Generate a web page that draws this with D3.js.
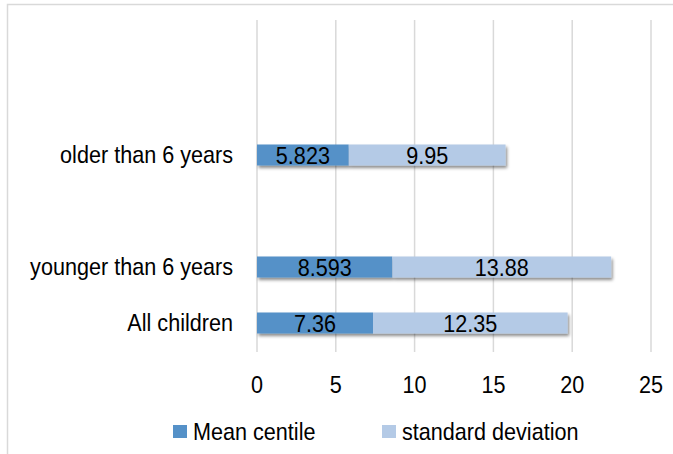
<!DOCTYPE html>
<html>
<head>
<meta charset="utf-8">
<script src="https://cdn.jsdelivr.net/npm/d3@7"></script>
<style>
  html, body { margin: 0; padding: 0; background: #fff; }
  svg text { font-family: "Liberation Sans", Arial, sans-serif; fill: #000; }
</style>
</head>
<body>
<svg id="chart" width="673" height="454"></svg>
<script>
// Category slots, bottom to top (blank slots are empty rows in the source chart)
const categories = ["All children", "younger than 6 years", "", "older than 6 years", "", ""];
const meanCentile = [7.36, 8.593, null, 5.823, null, null];
const standardDeviation = [12.35, 13.88, null, 9.95, null, null];
const seriesNames = ["Mean centile", "standard deviation"];
const xTicks = [0, 5, 10, 15, 20, 25];
const colors = ["#5591c8", "#b4cae6"];

const svg = d3.select("#chart");
const fontSize = 24;
const squeeze = 0.9; // emulate a narrow typeface
const place = (px, py) => `translate(${px},${py}) scale(${squeeze},1)`;

// outer border (only left/top visible in the frame)
svg.append("rect").attr("x", 7.5).attr("y", 4.5).attr("width", 680).attr("height", 470)
  .attr("fill", "none").attr("stroke", "#d9d9d9").attr("stroke-width", 1.5);

const defs = svg.append("defs");
const f = defs.append("filter").attr("id", "shadow").attr("x", "-5%").attr("y", "-30%").attr("width", "115%").attr("height", "190%");
f.append("feDropShadow").attr("dx", 1.5).attr("dy", 2.5).attr("stdDeviation", 1.6)
  .attr("flood-color", "#000").attr("flood-opacity", 0.45);

const x = d3.scaleLinear().domain([0, 25]).range([257, 651]);
const idx = categories.map((d, i) => i);
const y = d3.scaleBand().domain(idx).range([351, 15]).paddingInner(0.625).paddingOuter(0.3125);

// gridlines
svg.append("g").selectAll("line").data(xTicks).join("line")
  .attr("x1", d => x(d)).attr("x2", d => x(d))
  .attr("y1", 20).attr("y2", 352)
  .attr("stroke", "#d9d9d9").attr("stroke-width", 1.5);

// x tick labels
svg.append("g").selectAll("text").data(xTicks).join("text")
  .attr("transform", d => place(x(d), 393))
  .attr("text-anchor", "middle").attr("font-size", fontSize)
  .text(d => d);

// category labels
svg.append("g").selectAll("text").data(idx.filter(i => categories[i] !== "")).join("text")
  .attr("transform", i => place(233, y(i) + y.bandwidth() / 2))
  .attr("dy", "0.35em")
  .attr("text-anchor", "end").attr("font-size", fontSize)
  .text(i => categories[i]);

// bars
const rows = idx.filter(i => meanCentile[i] != null).map(i => ({
  i, segs: [
    { x0: 0, x1: meanCentile[i], v: meanCentile[i], c: colors[0] },
    { x0: meanCentile[i], x1: meanCentile[i] + standardDeviation[i], v: standardDeviation[i], c: colors[1] }
  ]
}));

const barG = svg.append("g");
rows.forEach(r => {
  const g = barG.append("g").attr("filter", "url(#shadow)");
  g.selectAll("rect").data(r.segs).join("rect")
    .attr("x", s => x(s.x0)).attr("width", s => x(s.x1) - x(s.x0))
    .attr("y", y(r.i)).attr("height", y.bandwidth())
    .attr("fill", s => s.c);
});
rows.forEach(r => {
  barG.append("g").selectAll("text").data(r.segs).join("text")
    .attr("transform", s => place((x(s.x0) + x(s.x1)) / 2, y(r.i) + y.bandwidth() / 2))
    .attr("dy", "0.36em")
    .attr("text-anchor", "middle").attr("font-size", fontSize)
    .text(s => s.v);
});

// legend
const legendX = [173, 382];
const lg = svg.append("g").selectAll("g").data(seriesNames).join("g")
  .attr("transform", (d, i) => `translate(${legendX[i]},425)`);
lg.append("rect").attr("width", 14).attr("height", 13).attr("fill", (d, i) => colors[i]);
lg.append("text").attr("transform", place(20, 6.5)).attr("dy", "0.36em")
  .attr("font-size", fontSize).text(d => d);
</script>
</body>
</html>
